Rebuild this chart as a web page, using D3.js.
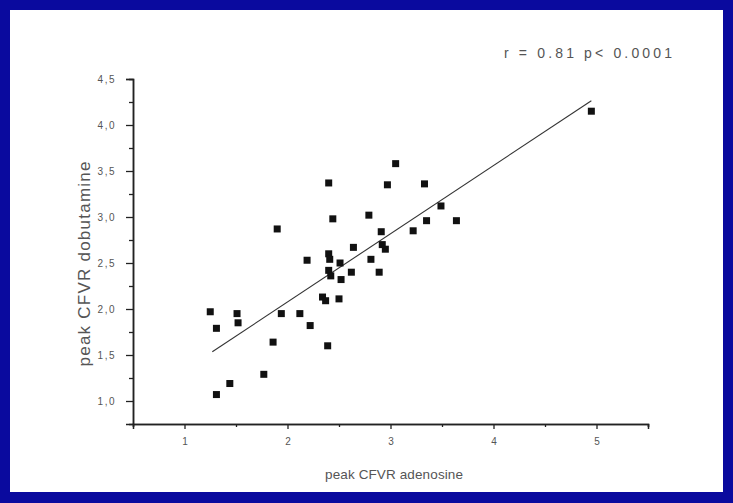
<!DOCTYPE html>
<html>
<head>
<meta charset="utf-8">
<script src="https://cdn.jsdelivr.net/npm/d3@7"></script>
<style>
  html, body { margin: 0; padding: 0; background: #0a0a9e; }
  svg { display: block; }
</style>
</head>
<body>
<script>
// ---- data ----
const adenosine = [1.25, 1.31, 1.51, 1.52, 1.31, 1.44, 1.77, 1.86, 1.94, 2.12,
  2.22, 2.39, 2.34, 2.37, 2.50, 1.90, 2.19, 2.40, 2.44, 2.40,
  2.41, 2.51, 2.40, 2.42, 2.52, 2.62, 2.64, 2.81, 2.79, 2.89,
  2.91, 2.92, 2.95, 2.97, 3.05, 3.22, 3.33, 3.49, 3.35, 3.64, 4.95];
const dobutamine = [1.97, 1.79, 1.95, 1.85, 1.07, 1.19, 1.29, 1.64, 1.95, 1.95,
  1.82, 1.60, 2.13, 2.09, 2.11, 2.87, 2.53, 3.37, 2.98, 2.60,
  2.54, 2.50, 2.42, 2.36, 2.32, 2.40, 2.67, 2.54, 3.02, 2.40,
  2.84, 2.70, 2.65, 3.35, 3.58, 2.85, 3.36, 3.12, 2.96, 2.96, 4.15];
const fitRange = [1.27, 4.95];
const fitIntercept = 0.593;
const fitSlope = 0.7416;
const xMajorTicks = [1, 2, 3, 4, 5];
const xMinorTicks = [0.5, 1.5, 2.5, 3.5, 4.5, 5.5];
const yMajorTicks = [1.0, 1.5, 2.0, 2.5, 3.0, 3.5, 4.0, 4.5];
const yMinorTicks = [1.25, 1.75, 2.25, 2.75, 3.25, 3.75, 4.25];
const xTitle = "peak CFVR adenosine";
const yTitle = "peak CFVR dobutamine";
const annotation = "r = 0.81  p< 0.0001";

// ---- layout ----
const W = 733, H = 503;
const svg = d3.select("body").append("svg").attr("width", W).attr("height", H);
svg.append("rect").attr("x", 0).attr("y", 0).attr("width", W).attr("height", H).attr("fill", "#0a0a9e");
svg.append("rect").attr("x", 10).attr("y", 10).attr("width", 713).attr("height", 482).attr("fill", "#ffffff");

const x = d3.scaleLinear().domain([0.5, 5.5]).range([133, 648]);
const y = d3.scaleLinear().domain([0.75, 4.5]).range([424, 79]);

const textColor = "#555";
const fontFam = "'Liberation Sans', Arial, sans-serif";

// x axis
const gx = svg.append("g").attr("transform", `translate(0,${y(0.75)})`);
gx.call(d3.axisBottom(x).tickValues(xMinorTicks).tickSize(3).tickFormat(""));
const gx2 = svg.append("g").attr("transform", `translate(0,${y(0.75)})`);
gx2.call(d3.axisBottom(x).tickValues(xMajorTicks).tickSize(5).tickPadding(9).tickFormat(d3.format("d")));
[gx, gx2].forEach(g => {
  g.select(".domain").attr("stroke", "#222").attr("stroke-width", 1.5);
  g.selectAll(".tick line").attr("stroke", "#222").attr("stroke-width", 1.3);
  g.selectAll("text").attr("fill", textColor).attr("font-size", 10).attr("font-family", fontFam);
});

// y axis
const gy = svg.append("g").attr("transform", `translate(${x(0.5)},0)`);
gy.call(d3.axisLeft(y).tickValues(yMinorTicks).tickSize(4).tickFormat(""));
const gy2 = svg.append("g").attr("transform", `translate(${x(0.5)},0)`);
gy2.call(d3.axisLeft(y).tickValues(yMajorTicks).tickSize(7).tickPadding(10)
  .tickFormat(d => d3.format(".1f")(d).replace(".", ",")));
[gy, gy2].forEach(g => {
  g.select(".domain").attr("stroke", "#222").attr("stroke-width", 1.5);
  g.selectAll(".tick line").attr("stroke", "#222").attr("stroke-width", 1.3);
  g.selectAll("text").attr("fill", textColor).attr("font-size", 10).attr("font-family", fontFam)
    .attr("letter-spacing", 1.5);
});

// regression line
const fitData = fitRange.map(v => [v, fitIntercept + fitSlope * v]);
svg.append("path")
  .datum(fitData)
  .attr("d", d3.line().x(d => x(d[0])).y(d => y(d[1])))
  .attr("stroke", "#333").attr("stroke-width", 1.1).attr("fill", "none");

// points
const pts = adenosine.map((a, i) => ({ a, d: dobutamine[i] }));
const s = 7;
svg.append("g").selectAll("rect").data(pts).join("rect")
  .attr("x", p => x(p.a) - s / 2)
  .attr("y", p => y(p.d) - s / 2)
  .attr("width", s).attr("height", s)
  .attr("fill", "#111");

// titles
svg.append("text")
  .attr("x", 394).attr("y", 479)
  .attr("text-anchor", "middle")
  .attr("font-family", fontFam).attr("font-size", 13.5)
  .attr("fill", textColor)
  .attr("textLength", 138).attr("lengthAdjust", "spacing")
  .text(xTitle);

svg.append("text")
  .attr("transform", `translate(90,264) rotate(-90)`)
  .attr("text-anchor", "middle")
  .attr("font-family", fontFam).attr("font-size", 17)
  .attr("fill", textColor)
  .attr("textLength", 205).attr("lengthAdjust", "spacing")
  .text(yTitle);

svg.append("text")
  .attr("x", 504).attr("y", 58)
  .attr("font-family", fontFam).attr("font-size", 14)
  .attr("fill", textColor)
  .attr("textLength", 168).attr("lengthAdjust", "spacing")
  .text(annotation);
</script>
</body>
</html>
